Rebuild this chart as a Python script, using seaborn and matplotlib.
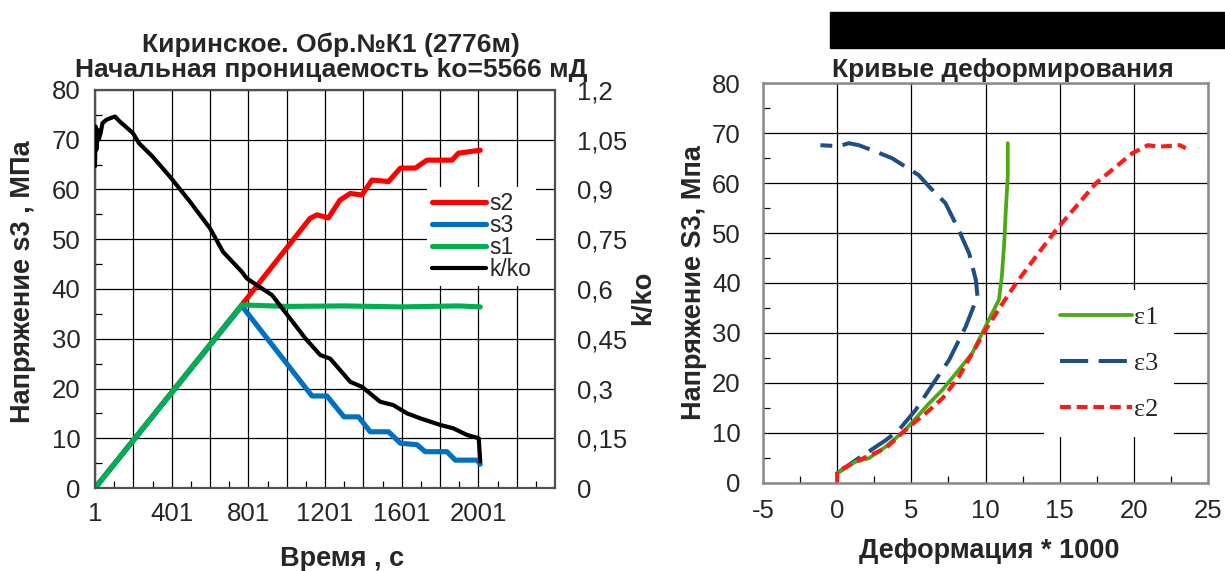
import matplotlib
matplotlib.use("Agg")
import matplotlib.pyplot as plt
from matplotlib.lines import Line2D
from matplotlib.patches import Rectangle
import seaborn as sns

# ---------------- Left panel: loading history and permeability vs time ----------------
t_s1 = [1, 767, 1000, 1300, 1600, 1900, 2011]
s1 = [0.0, 36.8, 36.5, 36.6, 36.4, 36.6, 36.4]

t_s2 = [1, 767, 1123, 1159, 1219, 1280, 1333, 1394, 1446, 1533, 1594, 1672,
        1733, 1864, 1897, 2011]
s2 = [0.0, 36.8, 54.2, 54.9, 54.3, 57.9, 59.2, 58.9, 61.9, 61.6, 64.3, 64.3,
      65.9, 65.9, 67.3, 67.9]

t_s3 = [1, 767, 1133, 1211, 1300, 1376, 1437, 1533, 1594, 1681, 1724, 1837,
        1881, 1994, 2011]
s3 = [0.0, 36.6, 18.5, 18.5, 14.3, 14.3, 11.3, 11.3, 9.0, 8.7, 7.3, 7.3,
      5.6, 5.6, 4.8]

t_k = [1, 4, 8, 14, 20, 30, 40, 60, 80, 105, 130, 160, 199, 230, 300, 393,
       497, 601, 669, 767, 793, 845, 924, 1019, 1100, 1176, 1228, 1333, 1394,
       1489, 1557, 1629, 1698, 1803, 1870, 1942, 2003, 2011]
k_ratio = [0.97, 1.09, 1.02, 1.08, 1.05, 1.07, 1.10, 1.11, 1.115, 1.12, 1.105,
           1.09, 1.07, 1.04, 1.0, 0.938, 0.863, 0.783, 0.712, 0.652, 0.632,
           0.612, 0.582, 0.511, 0.45, 0.401, 0.39, 0.32, 0.305, 0.26, 0.25,
           0.225, 0.21, 0.19, 0.18, 0.16, 0.15, 0.08]

time_ticks = [1, 201, 401, 601, 801, 1001, 1201, 1401, 1601, 1801, 2001, 2201, 2401]
time_labels = ["1", "", "401", "", "801", "", "1201", "", "1601", "", "2001", "", ""]
k_ticks = [0, 0.15, 0.3, 0.45, 0.6, 0.75, 0.9, 1.05, 1.2]
k_labels = ["0", "0,15", "0,3", "0,45", "0,6", "0,75", "0,9", "1,05", "1,2"]

# ---------------- Right panel: deformation curves ----------------
eps1_x = [0, 1.24, 2.14, 3.27, 4.6, 6.2, 7.1, 8.2, 9.1, 10.0, 10.9, 11.1,
          11.26, 11.37, 11.5, 11.5]
eps1_y = [1.9, 4.2, 4.9, 7.2, 10.6, 15.9, 18.6, 22.6, 25.9, 31.3, 36.6, 41.3,
          47.9, 54.6, 61.3, 68.0]

eps2_x = [0, 0, 1.24, 3.27, 4.84, 5.97, 7.1, 8.2, 9.1, 10.0, 11.15, 12.05,
          13.4, 14.75, 16.1, 17.45, 18.8, 19.9, 20.95, 21.7, 23.1, 23.5]
eps2_y = [0, 2.2, 4.2, 6.9, 11.2, 13.9, 16.9, 21.2, 25.9, 30.6, 35.9, 39.9,
          45.3, 50.6, 55.3, 60.0, 63.3, 66.0, 67.6, 67.3, 67.6, 67.0]

eps3_x = [0, 1.24, 3.27, 4.17, 5.3, 6.64, 7.55, 8.67, 9.46, 9.35, 8.9, 8.2,
          7.3, 6.2, 5.5, 4.6, 3.7, 2.36, 1.46, 0.79, 0.11, -1.13]
eps3_y = [1.9, 4.5, 8.5, 10.6, 14.6, 20.6, 24.6, 31.3, 37.3, 40.6, 45.9, 50.6,
          56.0, 59.3, 61.6, 63.3, 65.0, 66.6, 67.6, 68.0, 67.4, 67.6]

C_RED, C_BLUE, C_GREEN = "#FF0000", "#0070C0", "#00B050"
C_E1, C_E3, C_E2 = "#4AAA14", "#1F4E85", "#FF1A1A"
DASH_E3 = (0, (7, 2.6))
DASH_E2 = (0, (2.6, 1.4))
LW_S, LW_K = 3.7, 3.0
LW_E1, LW_E3, LW_E2 = 2.7, 2.9, 3.0

sns.set_style("white")
plt.rcParams["font.family"] = ["Liberation Sans", "DejaVu Sans"]
plt.rcParams["axes.unicode_minus"] = False

W, H = 1225, 571
fig = plt.figure(figsize=(W / 100, H / 100), dpi=100)


def fx(px):
    return px / W


def fy(py):
    return (H - py) / H


TICK_FS = 18.5
LABEL_FS = 19.5
TITLE_FS = 19

# ----- left axes -----
axL = fig.add_axes([fx(95), fy(488), 460 / W, 398 / H])
sns.lineplot(x=t_s2, y=s2, ax=axL, color=C_RED, sort=False, estimator=None)
sns.lineplot(x=t_s3, y=s3, ax=axL, color=C_BLUE, sort=False, estimator=None)
sns.lineplot(x=t_s1, y=s1, ax=axL, color=C_GREEN, sort=False, estimator=None)
for ln in axL.lines:
    ln.set_linewidth(LW_S)
    ln.set_solid_capstyle("round")
axL.set_xlim(1, 2401)
axL.set_ylim(0, 80)
axL.set_xticks(time_ticks)
axL.set_xticklabels(time_labels)
axL.set_xticks(list(range(101, 2401, 200)), minor=True)
axL.set_yticks(range(0, 81, 10))
axL.set_yticks(range(5, 80, 10), minor=True)
axL.grid(True, which="major", color="black", lw=0.9)
axL.tick_params(which="major", length=0, labelsize=TICK_FS)
axL.tick_params(axis="y", which="major", pad=10.5)
axL.tick_params(axis="x", which="major", pad=10)
axL.tick_params(which="minor", direction="in", length=5, width=0.9, color="black")
axL.tick_params(which="minor", bottom=True, left=True)
for sp in axL.spines.values():
    sp.set_color("#505050")
    sp.set_linewidth(1.6)
axL.set_xlabel("")
axL.set_ylabel("")

ax2 = axL.twinx()
sns.lineplot(x=t_k, y=k_ratio, ax=ax2, color="black", sort=False, estimator=None)
for ln in ax2.lines:
    ln.set_linewidth(LW_K)
ax2.set_ylim(0, 1.2)
ax2.set_yticks(k_ticks)
ax2.set_yticklabels(k_labels)
ax2.tick_params(axis="y", length=0, labelsize=TICK_FS, pad=15.5)
ax2.grid(False)
ax2.set_ylabel("")
for sp in ax2.spines.values():
    sp.set_visible(False)

handles_L = [
    Line2D([], [], color=C_RED, lw=LW_S),
    Line2D([], [], color=C_BLUE, lw=LW_S),
    Line2D([], [], color=C_GREEN, lw=LW_S),
    Line2D([], [], color="black", lw=LW_K),
]
legL = ax2.legend(handles_L, ["s2", "s3", "s1", "k/ko"], loc="upper left",
                  bbox_to_anchor=((427 - 95) / 460, (488 - 187) / 398),
                  frameon=True, fancybox=False, edgecolor="none",
                  facecolor="white", framealpha=1, fontsize=16.5,
                  handlelength=2.35, handletextpad=0.14, labelspacing=-0.05,
                  borderpad=0.22, borderaxespad=0)

fig.text(fx(331), fy(45), "Киринское. Обр.№К1 (2776м)", ha="center", va="center",
         fontsize=TITLE_FS, fontweight="bold")
fig.text(fx(331), fy(70), "Начальная проницаемость ko=5566 мД", ha="center",
         va="center", fontsize=TITLE_FS, fontweight="bold")
fig.text(fx(23), fy(282), "Напряжение s3 , МПа", rotation=90, ha="center",
         va="center", fontsize=LABEL_FS, fontweight="bold")
fig.text(fx(643), fy(298), "k/ko", rotation=90, ha="center", va="center",
         fontsize=LABEL_FS, fontweight="bold")
fig.text(fx(342), fy(559), "Время , с", ha="center", va="center",
         fontsize=LABEL_FS, fontweight="bold")

# ----- right axes -----
axR = fig.add_axes([fx(763), fy(482.7), 445 / W, 399.4 / H])
sns.lineplot(x=eps3_x, y=eps3_y, ax=axR, color=C_E3, sort=False,
             estimator=None, linestyle=DASH_E3)
sns.lineplot(x=eps1_x, y=eps1_y, ax=axR, color=C_E1, sort=False,
             estimator=None)
sns.lineplot(x=eps2_x, y=eps2_y, ax=axR, color=C_E2, sort=False,
             estimator=None, linestyle=DASH_E2)
for ln, w in zip(axR.lines, [LW_E3, LW_E1, LW_E2]):
    ln.set_linewidth(w)
axR.set_xlim(-5, 25)
axR.set_ylim(0, 80)
axR.set_xticks(range(-5, 26, 5))
axR.set_xticks([-2.5, 2.5, 7.5, 12.5, 17.5, 22.5], minor=True)
axR.set_yticks(range(0, 81, 10))
axR.set_yticks(range(5, 80, 10), minor=True)
axR.grid(True, which="major", color="black", lw=0.9)
axR.tick_params(which="major", length=0, labelsize=TICK_FS)
axR.tick_params(axis="y", which="major", pad=16)
axR.tick_params(axis="x", which="major", pad=12)
axR.tick_params(which="minor", direction="in", length=5, width=0.9, color="black")
axR.tick_params(which="minor", bottom=True, left=True)
for sp in axR.spines.values():
    sp.set_color("#8a8a8a")
    sp.set_linewidth(1.8)
axR.set_xlabel("")
axR.set_ylabel("")

handles_R = [
    Line2D([], [], color=C_E1, lw=LW_E1),
    Line2D([], [], color=C_E3, lw=LW_E3, linestyle=DASH_E3),
    Line2D([], [], color=C_E2, lw=LW_E2, linestyle=DASH_E2),
]
legR = axR.legend(handles_R, ["ε1", "ε3", "ε2"], loc="upper left",
                  bbox_to_anchor=((1044 - 763) / 445, (482.7 - 290) / 399.4),
                  frameon=True, fancybox=False, edgecolor="none",
                  facecolor="white", framealpha=1,
                  prop={"family": ["Liberation Serif", "DejaVu Serif"], "size": 19},
                  handlelength=2.75, handletextpad=0.05, labelspacing=0.85,
                  borderpad=0.6, borderaxespad=0)

fig.text(fx(1003), fy(70), "Кривые деформирования", ha="center", va="center",
         fontsize=TITLE_FS, fontweight="bold")
fig.text(fx(694), fy(283), "Напряжение S3, Мпа", rotation=90, ha="center",
         va="center", fontsize=LABEL_FS, fontweight="bold")
fig.text(fx(989), fy(551), "Деформация * 1000", ha="center", va="center",
         fontsize=LABEL_FS, fontweight="bold")

# black header bar above the right panel
fig.patches.append(Rectangle((fx(830), fy(48)), 395 / W, 36 / H,
                             transform=fig.transFigure, color="black"))

fig.savefig("out.png", dpi=100)
